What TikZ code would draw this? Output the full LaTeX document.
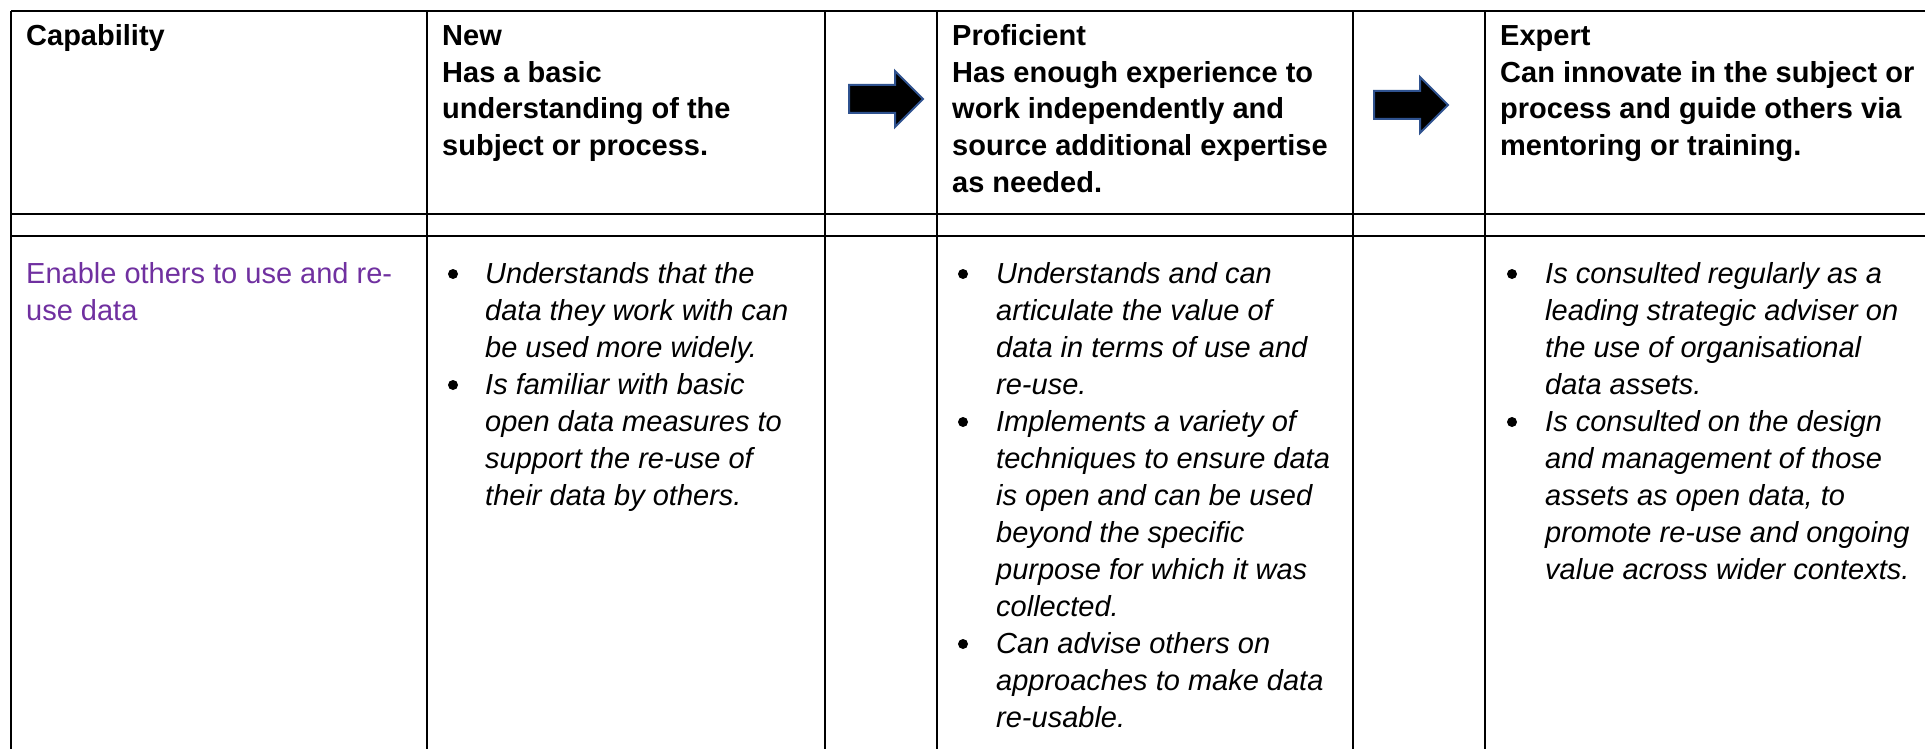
\documentclass[tikz,border=0pt]{standalone}
\usepackage{fontspec}
\setmainfont{Liberation Sans}
\definecolor{capurple}{RGB}{112,48,160}
\definecolor{arrowedge}{RGB}{47,82,143}
\tikzset{
  tableline/.style={line width=2.6pt, black},
  hdrtext/.style={font=\bfseries\fontsize{29}{36.5}\selectfont, inner sep=0pt, anchor=base west},
  bodytext/.style={font=\itshape\fontsize{29}{37}\selectfont, inner sep=0pt, anchor=base west},
  captext/.style={font=\fontsize{29}{37}\selectfont, text=capurple, inner sep=0pt, anchor=base west},
  bulletdot/.style={circle, fill=black, inner sep=0pt, minimum size=10pt},
  levelarrow/.style={fill=black, draw=arrowedge, line width=2pt, line join=miter},
}
% #1 style, #2 name prefix, #3 x, #4 first baseline y, #5 pitch, #6 lines
\newcommand\LineSet[6]{%
  \foreach \cellline [count=\k from 0] in {#6} {%
    \node[#1] (#2-\k) at ({#3},{#4+\k*#5}) {\cellline};
  }%
}
\begin{document}
\begin{tikzpicture}[x=1pt,y=-1pt]
\useasboundingbox (0,0) rectangle (1925,749);
\fill[white] (0,0) rectangle (1925,749);

% table rules
\foreach \yy in {11,214,236} {\draw[tableline] (11,\yy) -- (1927,\yy);}
\foreach \xx in {11,427,825,937,1353,1485} {\draw[tableline] (\xx,11) -- (\xx,751);}

% arrows
\filldraw[levelarrow] (849,85) -- (895,85) -- (895,71) -- (923,99) -- (895,127) -- (895,113) -- (849,113) -- cycle;
\filldraw[levelarrow] (1374,91) -- (1420,91) -- (1420,77) -- (1448,105) -- (1420,133) -- (1420,119) -- (1374,119) -- cycle;

% header
\node[hdrtext] (cap) at (26,46) {Capability};
\LineSet{hdrtext}{new}{442}{46}{36.5}{New, Has a basic, understanding of the, subject or process.}
\LineSet{hdrtext}{prof}{952}{46}{36.5}{Proficient, Has enough experience to, work independently and, source additional expertise, as needed.}
\LineSet{hdrtext}{exp}{1500}{46}{36.5}{Expert, Can innovate in the subject or, process and guide others via, mentoring or training.}

% body: capability
\LineSet{captext}{capab}{26}{283}{37}{Enable others to use and re-, use data}

% New
\node[bulletdot] (nb1) at (453,274) {};
\LineSet{bodytext}{nia}{485}{283}{37}{Understands that the, data they work with can, be used more widely.}
\node[bulletdot] (nb2) at (453,385) {};
\LineSet{bodytext}{nib}{485}{394}{37}{Is familiar with basic, open data measures to, support the re-use of, their data by others.}

% Proficient
\node[bulletdot] (pb1) at (963,274) {};
\LineSet{bodytext}{pia}{996}{283}{37}{Understands and can, articulate the value of, data in terms of use and, re-use.}
\node[bulletdot] (pb2) at (963,422) {};
\LineSet{bodytext}{pib}{996}{431}{37}{Implements a variety of, techniques to ensure data, is open and can be used, beyond the specific, purpose for which it was, collected.}
\node[bulletdot] (pb3) at (963,644) {};
\LineSet{bodytext}{pic}{996}{653}{37}{Can advise others on, approaches to make data, re-usable.}

% Expert
\node[bulletdot] (eb1) at (1512,274) {};
\LineSet{bodytext}{eia}{1545}{283}{37}{Is consulted regularly as a, leading strategic adviser on, the use of organisational, data assets.}
\node[bulletdot] (eb2) at (1512,422) {};
\LineSet{bodytext}{eib}{1545}{431}{37}{Is consulted on the design, and management of those, {assets as open data, to}, promote re-use and ongoing, value across wider contexts.}
\end{tikzpicture}
\end{document}
